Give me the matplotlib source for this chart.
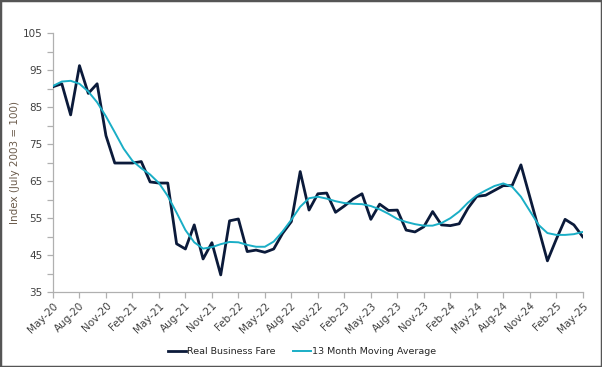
import numpy as np
import pandas as pd
from matplotlib import pyplot as plt
from matplotlib.patches import Rectangle

months = pd.date_range('2020-05-01', '2025-05-01', freq='MS')

real_fare = [
    90.5, 91.3, 82.9, 96.2, 88.7, 91.3, 77.3, 69.9, 69.9, 69.9,
    70.3, 64.8, 64.5, 64.5, 48.1, 46.7, 53.2, 44.0, 48.4, 39.7,
    54.3, 54.8, 46.0, 46.4, 45.8, 46.7, 50.9, 54.1, 67.6, 57.2,
    61.6, 61.8, 56.6, 58.3, 60.2, 61.6, 54.7, 58.8, 57.1, 57.2,
    51.8, 51.3, 52.7, 56.8, 53.2, 53.0, 53.5, 57.7, 60.9, 61.2,
    62.5, 63.8, 63.8, 69.4, 60.8, 52.2, 43.5, 49.3, 54.7, 53.2,
    50.0,
]

moving_avg = [
    90.7, 91.9, 92.1, 91.3, 89.2, 86.3, 82.5, 78.2, 73.8, 70.5,
    68.5, 66.8, 64.5, 61.0, 56.5, 51.8, 48.5, 46.8, 47.2, 48.0,
    48.6, 48.5, 47.8, 47.3, 47.3, 48.7, 51.4, 54.6, 58.1, 60.4,
    60.8, 60.3, 59.6, 59.1, 58.9, 58.8, 58.3, 57.4, 56.2, 54.8,
    54.0, 53.4, 53.0, 53.0, 53.7, 55.0, 56.8, 59.2, 61.2, 62.5,
    63.7, 64.4, 63.5, 60.8, 57.0, 53.2, 51.0, 50.5, 50.5, 50.7,
    51.3,
]

labels = [m.strftime('%b-%y') for m in months]
x = np.arange(len(months))

fig = plt.figure(figsize=(6.02, 3.67), dpi=100)
ax = fig.add_axes([0.088, 0.2035, 0.88, 0.7065])

ax.plot(x, real_fare, color='#0b1a3a', lw=2.0, label='Real Business Fare', zorder=3)
ax.plot(x, moving_avg, color='#1aaec6', lw=1.4, label='13 Month Moving Average', zorder=4)

ax.set_xlim(0, len(x) - 1)
ax.set_ylim(35, 105)
ax.set_yticks(np.arange(35, 106, 10))
ax.set_yticks(np.arange(40, 105, 10), minor=True)
ax.set_xticks(x[::3])
ax.set_xticklabels(labels[::3], rotation=45, ha='right', rotation_mode='anchor')

for side in ['top', 'right']:
    ax.spines[side].set_visible(False)
for side in ['left', 'bottom']:
    ax.spines[side].set_color('#b0b0b0')
    ax.spines[side].set_linewidth(0.9)
ax.tick_params(axis='both', which='both', color='#b0b0b0', length=4, width=0.9,
               labelsize=7.5, labelcolor='#404040')
ax.tick_params(axis='x', pad=2)

ax.set_ylabel('Index (July 2003 = 100)', fontsize=7.5, color='#6b5b4b', labelpad=2)

ax.legend(loc='upper center', bbox_to_anchor=(0.47, -0.18), ncol=2, frameon=False,
          fontsize=6.8, handlelength=1.9, handletextpad=0.15, columnspacing=1.8,
          labelcolor='#262626')

fig.patches.append(Rectangle((0, 0), 1, 1, transform=fig.transFigure, fill=False,
                             edgecolor='#555555', lw=2.5))

fig.savefig('out.png', dpi=100)
